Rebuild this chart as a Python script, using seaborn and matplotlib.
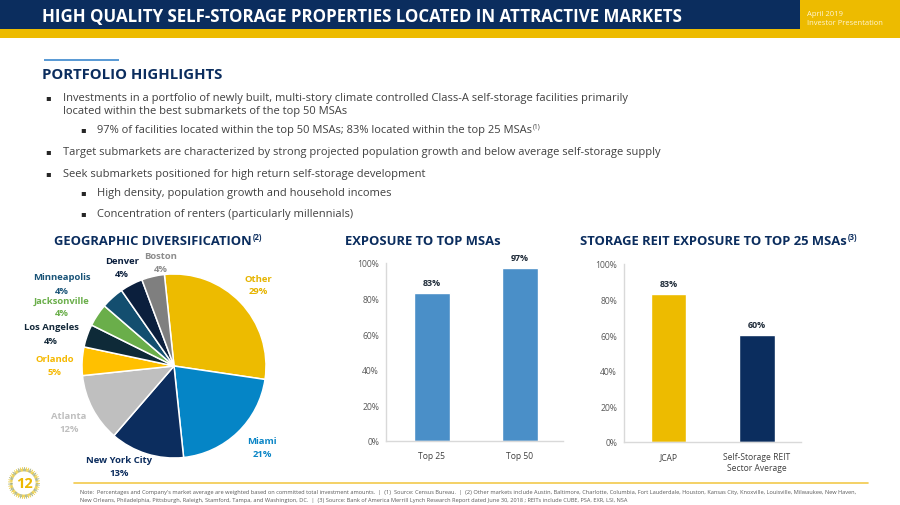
import matplotlib
matplotlib.use("Agg")
import matplotlib.pyplot as plt
from matplotlib.patches import Rectangle
from matplotlib.lines import Line2D
import numpy as np
import pandas as pd
import seaborn as sns

# ---------------- data ----------------
header_title = "HIGH QUALITY SELF-STORAGE PROPERTIES LOCATED IN ATTRACTIVE MARKETS"
header_note = ["April 2019", "Investor Presentation"]
section_title = "PORTFOLIO HIGHLIGHTS"

body_lines = [
    "Investments in a portfolio of newly built, multi-story climate controlled Class-A self-storage facilities primarily",
    "located within the best submarkets of the top 50 MSAs",
    "97% of facilities located within the top 50 MSAs; 83% located within the top 25 MSAs",
    "Target submarkets are characterized by strong projected population growth and below average self-storage supply",
    "Seek submarkets positioned for high return self-storage development",
    "High density, population growth and household incomes",
    "Concentration of renters (particularly millennials)",
]
body_levels = [0, 0, 1, 0, 0, 1, 1]
body_has_bullet = [True, False, True, True, True, True, True]
body_sups = ["", "", "(1)", "", "", "", ""]

pie_title = "GEOGRAPHIC DIVERSIFICATION"
pie_title_sup = "(2)"
pie_labels = ["Other", "Miami", "New York City", "Atlanta", "Orlando",
              "Los Angeles", "Jacksonville", "Minneapolis", "Denver", "Boston"]
pie_values = [29, 21, 13, 12, 5, 4, 4, 4, 4, 4]

msa_title = "EXPOSURE TO TOP MSAs"
msa_categories = ["Top 25", "Top 50"]
msa_values = [83, 97]

reit_title = "STORAGE REIT EXPOSURE TO TOP 25 MSAs"
reit_title_sup = "(3)"
reit_categories = ["JCAP", "Self-Storage REIT\nSector Average"]
reit_values = [83, 60]

pct_ticks = [0, 20, 40, 60, 80, 100]
pct_tick_labels = ["0%", "20%", "40%", "60%", "80%", "100%"]

footnotes = [
    "Note:  Percentages and Company's market average are weighted based on committed total investment amounts.  |  (1)  Source: Census Bureau.  |  (2) Other markets include Austin, Baltimore, Charlotte, Columbia, Fort Lauderdale, Houston, Kansas City, Knoxville, Louisville, Milwaukee, New Haven,",
    "New Orleans, Philadelphia, Pittsburgh, Raleigh, Stamford, Tampa, and Washington, DC.  |  (3) Source: Bank of America Merrill Lynch Research Report dated June 30, 2018 ; REITs include CUBE, PSA, EXR, LSI, NSA",
]
page_number = "12"

# ---------------- style ----------------
NAVY = "#0B2D5E"
GOLD = "#EDBB00"
BAR_BLUE = "#4A8FC8"
TEXT = "#404040"
AXIS = "#D9D9D9"
pie_colors = ["#EDBB00", "#0585C6", "#0C2D5E", "#BFBFBF", "#FFC000",
              "#0E2A38", "#6AAE4A", "#134E6F", "#0B1F3D", "#7F7F7F"]
pie_text_colors = ["#E6B400", "#0A85C6", "#0C2D5E", "#BFBFBF", "#F5B800",
                   "#14293A", "#6AAE4A", "#1A5478", "#0B1F3D", "#8C8C8C"]
# label layout (pixel centres of the two text lines)
pie_label_pos = [(258, 279, 292), (262, 442, 455), (119, 461, 474), (69, 417, 430),
                 (55, 360, 373), (51, 328, 342), (62, 301, 314), (62, 278, 291),
                 (122, 262, 275), (161, 257, 270)]

sns.set_style("white")
plt.rcParams["font.family"] = ["Open Sans", "DejaVu Sans"]
FONT = ["Open Sans", "DejaVu Sans"]
NARROW = ["Liberation Sans Narrow", "Open Sans", "DejaVu Sans"]

W, H = 900, 506
fig = plt.figure(figsize=(9, 5.06), dpi=100)
fig.patch.set_facecolor("white")
R = fig.canvas.get_renderer()


def fx(x):
    return x / W


def fy(y):
    return 1 - y / H


def fit(s, width, weight="normal", family=FONT, base=10.0):
    t = fig.text(0, 0, s, fontsize=base, fontweight=weight, family=family)
    w = t.get_window_extent(R).width
    t.remove()
    return base * width / w


def txt(x, y, s, size, color, weight="normal", family=FONT, ha="left", va="baseline", **kw):
    return fig.text(fx(x), fy(y), s, fontsize=size, color=color, fontweight=weight,
                    family=family, ha=ha, va=va, **kw)


def sup_after(t, y, s, size, color, weight="normal", family=FONT, dy=4.5):
    bb = t.get_window_extent(R)
    return txt(bb.x1 + 0.8, y - dy, s, size * 0.6, color, weight=weight, family=family)


# ---------------- header ----------------
fig.add_artist(Rectangle((0, fy(30)), fx(800), 30 / H, transform=fig.transFigure,
                         facecolor=NAVY, edgecolor="none", zorder=0))
fig.add_artist(Rectangle((0, fy(39)), 1, 9 / H, transform=fig.transFigure,
                         facecolor=GOLD, edgecolor="none", zorder=0))
fig.add_artist(Rectangle((fx(800), fy(39)), 100 / W, 39 / H, transform=fig.transFigure,
                         facecolor=GOLD, edgecolor="none", zorder=0))
hs = fit(header_title, 641, "bold", NARROW)
txt(42, 22, header_title, hs, "white", "bold", NARROW)
ns = fit(header_note[1], 76, "normal", NARROW)
txt(807, 16, header_note[0], ns, "#FFF6D6", family=NARROW)
txt(807, 25, header_note[1], ns, "#FFF6D6", family=NARROW)

# accent bar + section title
fig.add_artist(Rectangle((fx(44), fy(62)), 75 / W, 2.5 / H, transform=fig.transFigure,
                         facecolor="#5B9BD5", edgecolor="none"))
ss = fit(section_title, 180, "bold")
txt(42, 79, section_title, ss, NAVY, "bold")

# ---------------- bullets ----------------
bs = fit(body_lines[0], 564)
body_baselines = [101, 114, 133, 155, 177, 196, 217]
for line, lvl, hb, sp, yb in zip(body_lines, body_levels, body_has_bullet, body_sups, body_baselines):
    bx = 45 if lvl == 0 else 80
    tx = 63 if lvl == 0 else 97
    if hb:
        txt(bx, yb - 0.5, "\u25aa", bs * 0.75, "#262626", family=["DejaVu Sans"])
    t = txt(tx, yb, line, bs, TEXT)
    if sp:
        sup_after(t, yb, sp, bs, TEXT, dy=4)

# ---------------- chart titles ----------------
cs = fit(msa_title, 155, "bold")
t = txt(54, 245, pie_title, cs, NAVY, "bold")
sup_after(t, 245, pie_title_sup, cs, NAVY, "bold", dy=4.5)
txt(345, 245, msa_title, cs, NAVY, "bold")
t = txt(580, 245, reit_title, cs, NAVY, "bold")
sup_after(t, 245, reit_title_sup, cs, NAVY, "bold", dy=4.5)

# ---------------- pie ----------------
pr = 93
axp = fig.add_axes([fx(174 - pr), fy(367 + pr), 2 * pr / W, 2 * pr / H])
axp.pie(pie_values, colors=pie_colors, startangle=96, counterclock=False, radius=1,
        wedgeprops=dict(edgecolor="white", linewidth=1.1))
axp.set_xlim(-pr / 92, pr / 92)
axp.set_ylim(-pr / 92, pr / 92)
axp.set_aspect("equal")
axp.axis("off")

ls = fit("Minneapolis", 58, "bold")
for name, val, col, (cx, y1, y2) in zip(pie_labels, pie_values, pie_text_colors, pie_label_pos):
    txt(cx, y1, name, ls, col, "bold", ha="center", va="center")
    txt(cx, y2, f"{val}%", ls, col, "bold", ha="center", va="center")

# ---------------- bar charts ----------------
tick_size = fit("100%", 22)
xt_size = fit("Self-Storage REIT", 67)
val_size = fit("83%", 18, "bold")


def style_bar_ax(ax, xlim):
    ax.set_ylim(0, 100)
    ax.set_xlim(*xlim)
    ax.set_yticks(pct_ticks)
    ax.set_yticklabels(pct_tick_labels)
    ax.set_xlabel("")
    ax.set_ylabel("")
    for s in ["top", "right"]:
        ax.spines[s].set_visible(False)
    for s in ["left", "bottom"]:
        ax.spines[s].set_color(AXIS)
        ax.spines[s].set_linewidth(1.0)
    ax.tick_params(axis="y", length=3, width=0.8, color=AXIS, labelsize=tick_size,
                   labelcolor="#595959", pad=2)
    ax.tick_params(axis="x", length=0, labelsize=xt_size, labelcolor=TEXT, pad=7)
    ax.set_facecolor("none")
    ax.grid(False)
    for c in ax.containers:
        vals = [f"{int(round(b.get_height()))}%" for b in c]
        ax.bar_label(c, labels=vals, padding=4.5, fontsize=val_size, fontweight="bold",
                     color="#1E2A38")


ax1 = fig.add_axes([fx(386), fy(442), (563 - 386) / W, (442 - 264) / H])
df1 = pd.DataFrame({"cat": msa_categories, "val": msa_values})
sns.barplot(data=df1, x="cat", y="val", ax=ax1, color=BAR_BLUE, saturation=1,
            width=0.41, errorbar=None)
style_bar_ax(ax1, (-0.52, 1.49))

ax2 = fig.add_axes([fx(624), fy(443), (801 - 624) / W, (443 - 265) / H])
df2 = pd.DataFrame({"cat": reit_categories, "val": reit_values})
sns.barplot(data=df2, x="cat", y="val", hue="cat", palette=[GOLD, NAVY], ax=ax2,
            saturation=1, width=0.40, errorbar=None, legend=False)
style_bar_ax(ax2, (-0.506, 1.5))
for lab in ax2.get_xticklabels():
    lab.set_linespacing(1.3)

# ---------------- footer ----------------
fig.add_artist(Line2D([fx(74), fx(868)], [fy(484), fy(484)], transform=fig.transFigure,
                      color="#F2C94C", linewidth=1.2))
fs = fit(footnotes[0], 770)
txt(80, 494.5, footnotes[0], fs, "#595959")
txt(80, 502.5, footnotes[1], fs, "#595959")

# page number emblem
axn = fig.add_axes([fx(24 - 16), fy(484 + 16), 32 / W, 32 / H])
ang = np.linspace(0, 2 * np.pi, 90, endpoint=False)
for i, a in enumerate(ang):
    r0, r1 = 0.74, (0.98 if i % 2 == 0 else 0.88)
    col = "#E9C21A" if (i // 3) % 2 == 0 else "#9AA46A"
    axn.plot([r0 * np.cos(a), r1 * np.cos(a)], [r0 * np.sin(a), r1 * np.sin(a)],
             color=col, linewidth=0.5)
axn.set_xlim(-1, 1)
axn.set_ylim(-1, 1)
axn.set_aspect("equal")
axn.axis("off")
txt(24.5, 484, page_number, 10.5, "#EDB800", "bold", ha="center", va="center")

fig.savefig("out.png", dpi=100, facecolor="white")
